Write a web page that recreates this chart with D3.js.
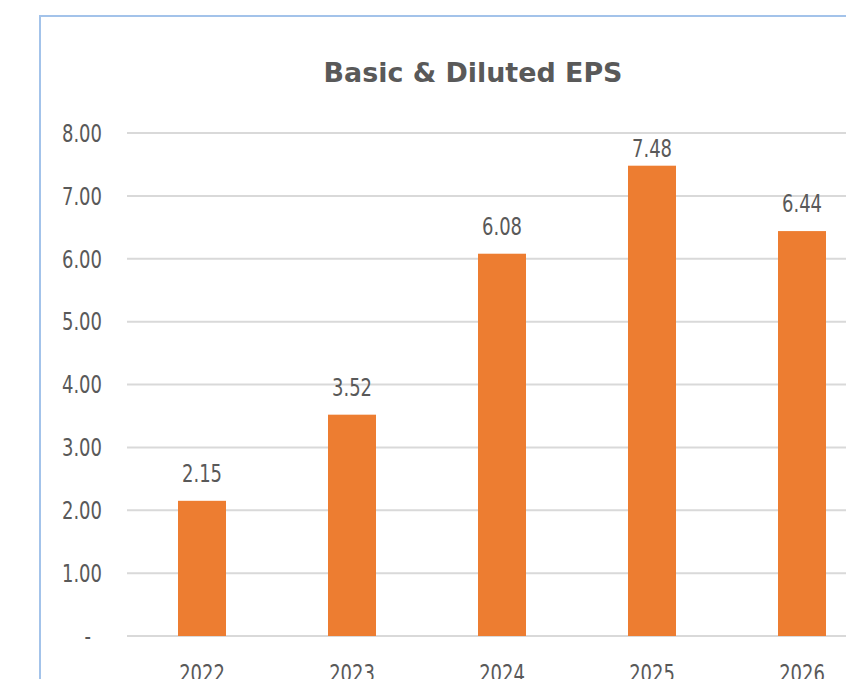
<!DOCTYPE html>
<html>
<meta charset="utf-8">
<script src="https://d3js.org/d3.v7.min.js"></script>
<style>
  body { margin: 0; background: #fff; }
  text { font-family: "DejaVu Sans", sans-serif; font-stretch: condensed; fill: #595959; }
</style>
<body>
<div id="my_dataviz"></div>
<script>
    // chart data
    const years = ["2022", "2023", "2024", "2025", "2026"];
    const eps = [2.15, 3.52, 6.08, 7.48, 6.44];
    const yTicks = [0, 1, 2, 3, 4, 5, 6, 7, 8];
    const chartTitle = "Basic & Diluted EPS";

    const W = 846, H = 679;
    const margin = {top: 133, right: -31, bottom: 43, left: 127},
        width = W - margin.left - margin.right,
        height = H - margin.top - margin.bottom;

    // narrow the labels a bit, like the original's condensed face
    const sq = 0.8;
    const place = (px, py) => "translate(" + px + "," + py + ") scale(" + sq + ",1)";

    const root = d3.select("#my_dataviz")
      .append("svg")
      .attr("width", W)
      .attr("height", H);

    // chart border (right side is cut off in the picture)
    root.append("rect")
      .attr("x", 40).attr("y", 16)
      .attr("width", 900).attr("height", 700)
      .attr("fill", "none")
      .attr("stroke", "#a3c3ea")
      .attr("stroke-width", 2);

    root.append("text")
      .attr("transform", "translate(473,82) scale(1.15,1)")
      .attr("text-anchor", "middle")
      .style("font-weight", "bold")
      .style("font-size", "26px")
      .text(chartTitle);

    const svg = root.append("g")
      .attr("transform", "translate(" + margin.left + "," + margin.top + ")");

    const x = d3.scaleBand()
      .domain(years)
      .range([0, width])
      .paddingInner(0.68)
      .paddingOuter(0.34);

    const y = d3.scaleLinear()
      .domain([0, 8])
      .range([height, 0]);

    // gridlines
    svg.selectAll(".grid")
      .data(yTicks)
      .enter()
      .append("line")
      .attr("class", "grid")
      .attr("x1", 0)
      .attr("x2", width)
      .attr("y1", d => y(d))
      .attr("y2", d => y(d))
      .attr("stroke", "#d9d9d9")
      .attr("stroke-width", 2);

    // Y labels
    svg.selectAll(".ylab")
      .data(yTicks)
      .enter()
      .append("text")
      .attr("class", "ylab")
      .attr("transform", d => place(d === 0 ? -36 : -25, y(d)))
      .attr("dy", "0.35em")
      .attr("text-anchor", "end")
      .style("font-size", "25px")
      .text(d => d === 0 ? "-" : d3.format(".2f")(d));

    // bars
    svg.selectAll(".bar")
      .data(eps)
      .enter()
      .append("rect")
      .attr("class", "bar")
      .attr("x", (d, i) => x(years[i]))
      .attr("width", x.bandwidth())
      .attr("y", d => y(d))
      .attr("height", d => y(0) - y(d))
      .attr("fill", "#ed7d31");

    // value labels
    svg.selectAll(".vlab")
      .data(eps)
      .enter()
      .append("text")
      .attr("class", "vlab")
      .attr("transform", (d, i) => place(x(years[i]) + x.bandwidth() / 2, Math.max(y(d) - 19, y(8) + 24)))
      .attr("text-anchor", "middle")
      .style("font-size", "25px")
      .text(d => d3.format(".2f")(d));

    // X labels
    svg.selectAll(".xlab")
      .data(years)
      .enter()
      .append("text")
      .attr("class", "xlab")
      .attr("transform", d => place(x(d) + x.bandwidth() / 2, height + 46))
      .attr("text-anchor", "middle")
      .style("font-size", "25px")
      .text(d => d);
</script>
</body>
</html>
